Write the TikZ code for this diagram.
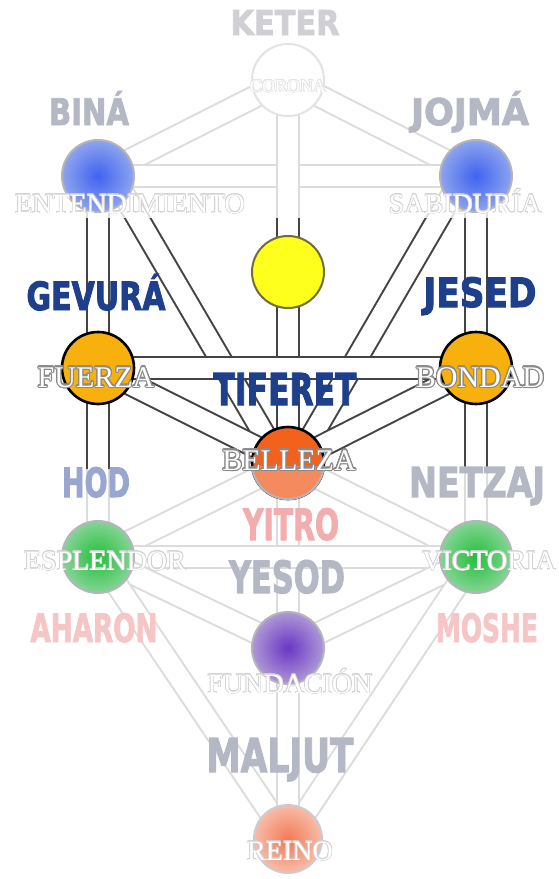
\documentclass[tikz,border=0pt]{standalone}
\usepackage{fontspec}
\usepackage{graphicx}
\usepackage{contour}
\usetikzlibrary{calc}
\setmainfont{Liberation Serif}
\newfontfamily\hdfont{DejaVu Sans}[BoldFeatures={FakeBold=2.5}]
\definecolor{hdblue}{HTML}{1E3F8C}
\definecolor{solidline}{HTML}{444444}
\definecolor{fadeline}{HTML}{DCDCDC}
\definecolor{ketgray}{HTML}{D0D0D4}
\definecolor{fadegray}{HTML}{B4B8C4}
\definecolor{fadeblue}{HTML}{98A6D0}
\definecolor{fadered}{HTML}{F2AEAE}
\definecolor{fadered2}{HTML}{F6C6C6}
\definecolor{orangeG}{HTML}{F7B00C}
\definecolor{tifor}{HTML}{F2621C}
\definecolor{tiffade}{HTML}{F58A5E}
\definecolor{yell}{HTML}{FFFF1E}
\definecolor{yellbd}{HTML}{6E6E3C}
\definecolor{bluein}{HTML}{3F63F0}
\definecolor{blueout}{HTML}{8EA4EE}
\definecolor{greenin}{HTML}{22C03A}
\definecolor{greenout}{HTML}{86D496}
\definecolor{purpin}{HTML}{6A36C4}
\definecolor{purpout}{HTML}{AE98D6}
\definecolor{salin}{HTML}{F27A56}
\definecolor{salout}{HTML}{F8BCA8}
\definecolor{orbbd}{HTML}{B4B4BC}
\definecolor{outl}{HTML}{8A8A8A}
\definecolor{fadeoutl}{HTML}{D2D2D2}
\newcommand\hdtxt[3]{\resizebox{#1pt}{#2pt}{\hdfont\bfseries #3}}
\contourlength{1pt}
\newcommand\treelinks{%
  \draw[tiepath] (K) -- (B);
  \draw[tiepath] (K) -- (J);
  \draw[tiepath] (B) -- (J);
  \draw[tiepath] (K) -- (D);
  \draw[tiepath] (B) -- (G);
  \draw[tiepath] (J) -- (Je);
  \draw[tiepath] ($(B)+(15,0)$) -- ($(T)+(-7,0)$);
  \draw[tiepath] ($(J)+(-13,0)$) -- ($(T)+(8,0)$);
  \draw[tiepath] (D) -- (T);
  \draw[tiepath] (G) -- (T);
  \draw[tiepath] (Je) -- (T);
  \draw[tiepath] (G) -- (Je);
  \draw[tiepath] (G) -- (H);
  \draw[tiepath] (Je) -- (N);
  \draw[tiepath] (T) -- (H);
  \draw[tiepath] (T) -- (N);
  \draw[tiepath] (T) -- (Y);
  \draw[tiepath] (H) -- (N);
  \draw[tiepath] (H) -- (Y);
  \draw[tiepath] (N) -- (Y);
  \draw[tiepath] (H) -- (M);
  \draw[tiepath] (N) -- (M);
  \draw[tiepath] (Y) -- (M);
}
\begin{document}
\begin{tikzpicture}[x=1pt,y=-1pt,
  orb/.style={circle,minimum size=72pt,inner sep=0pt,line width=2pt},
  dbl/.style={line width=2pt,double=white,double distance=20pt},
  hd/.style={anchor=base,inner sep=0pt},
  sf/.style={anchor=base,inner sep=0pt,text=white,font=\fontsize{28}{28}\selectfont},
  sfbig/.style={anchor=base,inner sep=0pt,text=white,font=\fontsize{30}{30}\selectfont}]
\fill[white] (0,0) rectangle (559,879);
\useasboundingbox (0,0) rectangle (559,879);
% centres
\coordinate (K) at (288,80);
\coordinate (B) at (98,176);
\coordinate (J) at (476,176);
\coordinate (D) at (288,272);
\coordinate (G) at (98,368);
\coordinate (Je) at (476,368);
\coordinate (T) at (288,463);
\coordinate (H) at (98,557);
\coordinate (N) at (476,557);
\coordinate (Y) at (288,648);
\coordinate (M) at (288,839);
% faded paths
\begin{scope}[tiepath/.style={dbl,draw=fadeline}]
  \treelinks
\end{scope}
% solid band
\begin{scope}[tiepath/.style={dbl,draw=solidline}]
  \clip (0,218) rectangle (559,468);
  \treelinks
\end{scope}
% spheres
\node[orb,fill=white,draw=ketgray!60] (Kn) at (K) {};
\node[orb,inner color=bluein,outer color=blueout,draw=orbbd] (Bn) at (B) {};
\node[orb,inner color=bluein,outer color=blueout,draw=orbbd] (Jn) at (J) {};
\node[orb,fill=yell,draw=yellbd] (Dn) at (D) {};
\node[orb,fill=orangeG,draw=black,line width=2.6pt] (Gn) at (G) {};
\node[orb,fill=orangeG,draw=black,line width=2.6pt] (Jen) at (Je) {};
\node[orb,fill=tifor,draw=black,line width=2.6pt] (Tn) at (T) {};
\begin{scope}
  \clip (0,466) rectangle (559,520);
  \fill[tiffade] (T) circle (37);
  \draw[orbbd,line width=2pt] (T) circle (36);
\end{scope}
\node[orb,inner color=greenin,outer color=greenout,draw=orbbd] (Hn) at (H) {};
\node[orb,inner color=greenin,outer color=greenout,draw=orbbd] (Nn) at (N) {};
\node[orb,inner color=purpin,outer color=purpout,draw=orbbd] (Yn) at (Y) {};
\node[orb,minimum size=68pt,inner color=salin,outer color=salout,draw=orbbd!70] (Mn) at (M) {};
% Hebrew names
\node[hd,text=ketgray] (lK) at (285,35) {\hdtxt{109}{25}{KETER}};
\node[hd,text=fadegray] (lB) at (89,125) {\hdtxt{80}{34}{BINÁ}};
\node[hd,text=fadegray] (lJ) at (470,125) {\hdtxt{118}{34}{JOJMÁ}};
\node[hd,text=hdblue] (lG) at (96,310) {\hdtxt{139}{36}{GEVURÁ}};
\node[hd,text=hdblue] (lJe) at (480,307) {\hdtxt{113}{30}{JESED}};
\node[hd,text=hdblue] (lT) at (285,405) {\hdtxt{143}{32}{TIFERET}};
\node[hd,text=fadeblue] (lH) at (96,497) {\hdtxt{68}{30}{HOD}};
\node[hd,text=fadegray] (lN) at (477,497) {\hdtxt{136}{30}{NETZAJ}};
\node[hd,text=fadered] (lYi) at (291,540) {\hdtxt{96}{32}{YITRO}};
\node[hd,text=fadegray] (lY) at (287,593) {\hdtxt{116}{33}{YESOD}};
\node[hd,text=fadered2] (lA) at (94,642) {\hdtxt{127}{29}{AHARON}};
\node[hd,text=fadered2] (lMo) at (487,642) {\hdtxt{102}{29}{MOSHE}};
\node[hd,text=fadegray] (lM) at (280,772) {\hdtxt{147}{34}{MALJUT}};
% Spanish names
\contourlength{0.6pt}
\node[sf,font=\fontsize{18}{18}\selectfont] (sK) at (288,92) {\contour{fadeoutl!60}{CORONA}};
\node[sf] (sB) at (130,213) {\contour{fadeoutl}{ENTENDIMIENTO}};
\node[sf] (sJ) at (465,213) {\contour{fadeoutl}{SABIDURÍA}};
\node[sf] (sH) at (105,570) {\contour{fadeoutl}{ESPLENDOR}};
\node[sf] (sN) at (489,570) {\contour{fadeoutl}{VICTORIA}};
\node[sf] (sY) at (290,693) {\contour{fadeoutl}{FUNDACIÓN}};
\node[sf] (sM) at (290,860) {\contour{fadeoutl}{REINO}};
\contourlength{1.1pt}
\node[sfbig] (sG) at (96,387) {\contour{outl}{FUERZA}};
\node[sfbig] (sJe) at (480,387) {\contour{outl}{BONDAD}};
\node[sfbig] (sT) at (289,470) {\contour{outl}{BELLEZA}};
\end{tikzpicture}
\end{document}
